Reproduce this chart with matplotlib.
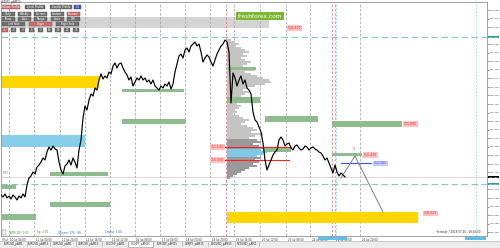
import numpy as np
import matplotlib as mpl
mpl.use('Agg')
import matplotlib.pyplot as plt
from matplotlib.patches import Rectangle

# USDJPY M15 closes, one value every 2 bars
closes = [110.825, 110.795, 110.840, 110.780, 110.810, 110.765, 110.825, 110.795, 110.750, 110.810,
          110.780, 110.840, 110.795, 110.975, 111.080, 111.110, 111.170, 111.140, 111.245, 111.275,
          111.320, 111.380, 111.350, 111.470, 111.545, 111.500, 111.560, 111.515, 111.500, 111.320,
          111.200, 111.140, 111.260, 111.290, 111.350, 111.275, 111.380, 111.320, 111.230, 111.500,
          111.650, 111.980, 112.160, 112.100, 112.250, 112.340, 112.310, 112.430, 112.400, 112.550,
          112.640, 112.565, 112.610, 112.580, 112.670, 112.640, 112.760, 112.805, 112.730, 112.790,
          112.805, 112.730, 112.670, 112.625, 112.550, 112.595, 112.460, 112.520, 112.580, 112.550,
          112.610, 112.550, 112.580, 112.520, 112.550, 112.490, 112.550, 112.460, 112.430, 112.400,
          112.460, 112.430, 112.490, 112.460, 112.520, 112.415, 112.490, 112.670, 112.790, 112.910,
          112.940, 112.880, 113.000, 113.030, 112.970, 113.060, 113.090, 113.120, 113.060, 113.090,
          112.970, 112.820, 112.880, 112.925, 112.895, 112.820, 112.760, 112.850, 112.940, 113.000,
          113.060, 113.090, 113.150, 113.120, 112.970, 112.205, 112.655, 112.580, 112.460, 112.550,
          112.610, 112.490, 112.550, 112.430, 112.400, 112.340, 112.070, 111.950, 111.920, 111.845,
          111.770, 111.605, 111.350, 111.200, 111.275, 111.350, 111.425, 111.470, 111.500, 111.650,
          111.695, 111.650, 111.560, 111.590, 111.605, 111.530, 111.500, 111.560, 111.575, 111.530,
          111.500, 111.515, 111.560, 111.545, 111.500, 111.530, 111.545, 111.515, 111.500, 111.470,
          111.455, 111.410, 111.350, 111.380, 111.305, 111.230, 111.155, 111.275, 111.170, 111.110,
          111.155, 111.125, 111.095]

# zones: (bar_from, bar_to, price_low, price_high)
green_zones = [(0, 15, 110.915, 110.975), (0, 35, 110.450, 110.540),
               (49, 107, 111.110, 111.170), (49, 109, 110.645, 110.720),
               (121, 183, 112.370, 112.415), (121, 185, 111.890, 111.965),
               (227, 255, 112.700, 112.745), (226, 259, 112.205, 112.295),
               (264, 317, 111.920, 112.010), (263, 290, 111.470, 111.530),
               (331, 401, 111.845, 111.935), (331, 361, 111.410, 111.455)]
yellow_zones = [(0, 98, 112.430, 112.610), (226, 417, 110.405, 110.570)]
blue_zones = [(0, 84, 111.545, 111.725)]
gray_zones = [(0, 268, 113.330, 113.495)]

red_levels = [(222, 290, 111.545), (222, 288, 111.350)]
blue_level = (340, 370, 111.300)
projection_x = [340, 354, 382]
projection_p = [111.080, 111.410, 110.570]
teal_levels = [113.195, 110.990]

# volume profile, 0.03 price bins from 113.150 downward
profile_w = [4, 8, 12, 9, 14, 18, 22, 16, 20, 14, 18, 24, 20, 16, 22, 28, 18, 24, 30, 36,
             42, 44, 38, 28, 20, 16, 22, 18, 14, 10, 12, 8, 10, 14, 12, 8, 10, 6, 12, 16,
             22, 18, 14, 20, 26, 30, 24, 36, 28, 22, 30, 34, 26, 32, 38, 34, 40, 36, 30, 34,
             28, 32, 26, 30, 22, 18, 14, 10, 6, 3]
profile_top = 113.150

price_ticks = [113.600, 113.470, 113.345, 113.215, 113.085, 112.960, 112.830, 112.705, 112.575,
               112.445, 112.320, 112.190, 112.060, 111.935, 111.805, 111.675, 111.550, 111.420,
               111.290, 111.165, 111.035, 110.910, 110.780, 110.650, 110.525, 110.395, 110.265]
grid_x = [8, 33, 59, 84, 109, 134, 159, 184, 209, 233, 259, 285, 309, 334, 359]
time_labels = ['9 Jul', '10 Jul 04:00', '11 Jul 00:00', '11 Jul 20:00', '12 Jul 16:00',
               '13 Jul 12:00', '16 Jul 08:00', '17 Jul 04:00', '18 Jul 00:00', '18 Jul 20:00',
               '19 Jul 16:00', '20 Jul 12:00', '23 Jul 08:00', '24 Jul 04:00', '25 Jul 00:00',
               '25 Jul 20:00']
tabs = ['EURUSD_pAM1', 'EURUSD_pAM15', 'GBPUSD_pAM1', 'GBPUSD_pAM15', 'USDCHF_pAM1',
        'USDJPY_pAM15', 'EURGBP_pAM15', 'GBPJPY_pAM15', 'AUDUSD_pAM15', 'NZDUSD_pAM1']

fig = plt.figure(figsize=(5, 2.48), dpi=100)
fig.patch.set_facecolor('white')
ax = fig.add_axes([1/500, 12/248, 486/500, 234/248])
ax.set_xlim(0, 486)
ax.set_ylim(110.210, 113.720)

x = np.arange(len(closes)) * 2

def zone(z, color, zo=2):
    for x0, x1, lo, hi in z:
        ax.add_patch(Rectangle((x0, lo), x1 - x0, hi - lo, color=color, lw=0, zorder=zo))

zone(gray_zones, '#d4d4d4', 1)
zone(yellow_zones, '#ffd700')
zone(blue_zones, '#87ceeb')

for gx in grid_x:
    ax.axvline(gx, color='#a8a8a8', lw=0.6, ls=(0, (3, 2)), zorder=1)
for vx in [225, 331]:
    ax.axvline(vx, color='#e08080', lw=0.6, ls=(0, (3, 2)), zorder=1)
for vx in [335, 475]:
    ax.axvline(vx, color='#a0d4ec', lw=0.6, ls=(0, (2, 2)), zorder=1)
for lv in teal_levels:
    ax.axhline(lv, color='#8cc6c6', lw=0.8, ls=(0, (6, 3)), zorder=1)
ax.axhline(closes[-1], color='#c8c8c8', lw=0.5, zorder=1)

# volume profile
bins = profile_top - 0.03 * np.arange(len(profile_w))
pcol = []
for b in bins:
    if 111.41 <= b <= 111.50:
        pcol.append('#7ec8e8')
    elif 110.98 <= b <= 111.65:
        pcol.append('#9a9a9a')
    else:
        pcol.append('#c4c4c4')
ax.barh(bins, profile_w, left=226, height=0.03, color=pcol, lw=0, zorder=2)

zone(green_zones, '#8fbc8f', 3)

for x0, x1, p in red_levels:
    ax.plot([x0, x1], [p, p], color='#ff2020', lw=0.8, zorder=4)
ax.plot([blue_level[0], blue_level[1]], [blue_level[2]] * 2, color='#3050ff', lw=0.8, zorder=4)
ax.plot(projection_x, projection_p, color='#808080', lw=0.7, zorder=4)

ax.plot(x, closes, color='black', lw=0.85, zorder=5)

def tag(xp, p, s, fc='#ffc0c0', tc='#e03030', ha='left'):
    ax.text(xp, p, s, fontsize=2.3, color=tc, ha=ha, va='center', zorder=6,
            bbox=dict(boxstyle='square,pad=0.25', fc=fc, ec='none'))

tag(210, 111.545, '111.545')
tag(210, 111.350, '111.350')
tag(287, 113.330, '113.370')
tag(403, 111.890, '111.890')
tag(363, 111.425, '111.425')
tag(423, 110.550, '110.555')
tag(373, 111.300, '111.300', fc='#c8c8ff', tc='#3050ff')
ax.text(353, 111.515, '1', fontsize=2.5, color='#e03030', ha='center', va='center', zorder=6)
ax.text(2, 111.140, 'M15', fontsize=2.2, color='#e07070', zorder=6)

ax.text(259, 113.510, 'freshforex.com', fontsize=4.2, color='white', ha='center', va='center',
        zorder=7, bbox=dict(boxstyle='square,pad=0.3', fc='#7cb82f', ec='none'))

# right price scale; plain ticks give way to the highlighted labels
marked = teal_levels + [closes[-1]]
shown = [p for p in price_ticks if min(abs(p - m) for m in marked) > 0.07]
ax.yaxis.tick_right()
ax.set_yticks(shown)
ax.set_yticklabels(['%.3f' % p for p in shown])
ax.tick_params(axis='y', labelsize=1.7, length=1.2, width=0.4, pad=0.6, colors='#333333')
ax.set_xticks([])
yt = ax.get_yaxis_transform()
for lv, fc in zip(marked, ['#2a9d9d', '#2a9d9d', 'black']):
    ax.text(1.004, lv, '%.3f' % lv, transform=yt, fontsize=1.7, color='white', va='center',
            zorder=8, clip_on=False, bbox=dict(boxstyle='square,pad=0.2', fc=fc, ec='none'))
for s in ax.spines.values():
    s.set_color('#909090')
    s.set_linewidth(0.6)

xt = ax.get_xaxis_transform()
for lx, lab in zip([0] + grid_x, time_labels):
    ax.text(lx + 1.5, -0.008, lab, transform=xt, fontsize=1.9, color='#333333', va='top',
            clip_on=False)

# overlay in pixel units for the terminal widgets
ov = fig.add_axes([0, 0, 1, 1], zorder=10)
ov.set_xlim(0, 500)
ov.set_ylim(248, 0)
ov.axis('off')

def btn(x0, y0, w, h, s, fc='#707070'):
    ov.add_patch(Rectangle((x0, y0), w, h, fc=fc, ec='#505050', lw=0.3))
    ov.text(x0 + w / 2, y0 + h / 2, s, fontsize=1.9, color='white', ha='center', va='center')

ov.text(1, 2.5, 'USDJPY_pAM15', fontsize=2.0, color='#333333', va='center')
btn(2, 5, 18, 4, 'Volume Profile', '#d86a6a')
btn(25, 5, 20, 4, 'Level Profile')
btn(50, 5, 22, 4, 'Candle Profile')
btn(74, 5, 7, 4, '1:1', '#3a4fd0')
for r, names in enumerate([['Daily', 'Weekly', 'Current', 'Custom', 'Session'],
                           ['Show', 'Auto', 'Range', 'Scale', 'Diff']]):
    for i, nm in enumerate(names):
        fc = '#d86a6a' if (r == 0 and i == 4) else '#707070'
        btn(2 + i * 16.2, 12 + r * 5, 13, 4, nm, fc)
for i, nm in enumerate(['Left Side', 'Origin', 'Right Side']):
    btn(2 + i * 27, 22, 23, 4, nm, '#d86a6a' if i == 1 else '#707070')
for i, nm in enumerate(['1', '2', '3', '5', '7', '10', '15', '20', '33']):
    btn(2 + i * 8.9, 28, 5.5, 4, nm, '#d86a6a' if i == 0 else '#707070')

ov.add_patch(Rectangle((2, 230), 4, 5, fc='#f0f0f0', ec='#808080', lw=0.3))
ov.text(10, 232.5, 'ATR(20): 0.63', fontsize=2.0, color='#2a9a2a', va='center')
ov.text(37, 232.5, 'Sp: 2.00', fontsize=2.0, color='#2a9a2a', va='center')
ov.text(58, 232.5, 'Объем: 176 : 88', fontsize=2.0, color='#1e6fd0', va='center')
ov.text(105, 232.5, 'Спред: 1.00', fontsize=2.0, color='#1e6fd0', va='center')
ov.text(436, 232.5, 'Четверг / 2018.07.26 - 00:49:00', fontsize=2.0, color='#333333', va='center')
ov.add_patch(Rectangle((318, 236.5), 29, 3.5, fc='#5bc0eb', lw=0))
ov.add_patch(Rectangle((465, 236.5), 21, 3.5, fc='#5bc0eb', lw=0))

ov.add_patch(Rectangle((0, 241), 500, 7, fc='#ececec', lw=0))
ov.plot([0, 500], [241, 241], color='#b0b0b0', lw=0.4)
tab_edges = [0, 27, 50, 76, 102, 128, 153, 182, 208, 235, 259]
for i, nm in enumerate(tabs):
    x0, x1 = tab_edges[i], tab_edges[i + 1]
    if nm == 'USDJPY_pAM15':
        ov.add_patch(Rectangle((x0, 241), x1 - x0, 6, fc='white', ec='#909090', lw=0.4))
    ov.plot([x1, x1], [242, 246], color='#a0a0a0', lw=0.4)
    ov.text((x0 + x1) / 2, 244, nm, fontsize=1.9, color='#333333', ha='center', va='center')

fig.savefig('out.png', dpi=100)
